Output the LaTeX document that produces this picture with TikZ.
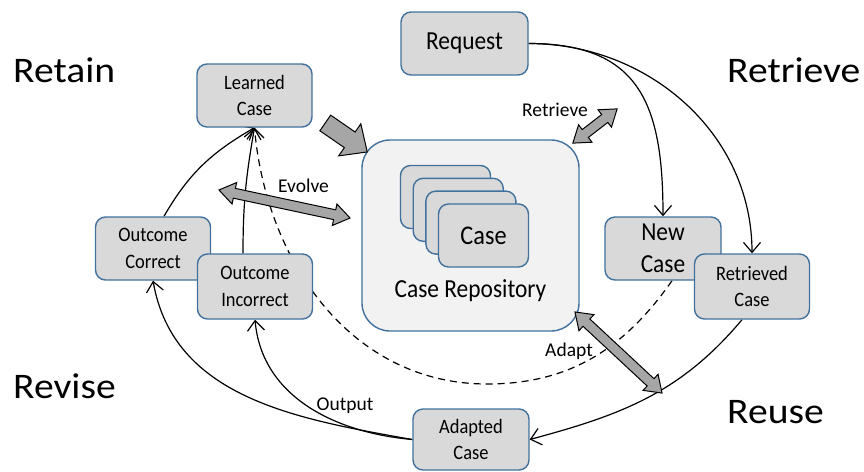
\documentclass[tikz,border=0pt]{standalone}
\usepackage{fontspec}
\setmainfont{Carlito}
\newfontfamily\boxfont[FakeStretch=0.9]{Carlito}
\newfontfamily\phasefont[FakeStretch=1.1]{Carlito}
\usetikzlibrary{arrows.meta,shapes.arrows,backgrounds}
\definecolor{boxgray}{HTML}{D9D9D9}
\definecolor{repogray}{HTML}{F2F2F2}
\definecolor{boxblue}{HTML}{41719C}
\definecolor{arrowgray}{HTML}{A6A6A6}

\begin{document}
\begin{tikzpicture}[x=1pt,y=1pt,
  casebox/.style={draw=boxblue, line width=1.4pt, fill=boxgray, rounded corners=10pt,
    minimum width=115pt, minimum height=63pt, inner sep=0pt, align=center,
    font=\boxfont\fontsize{20.5}{26.5}\selectfont},
  bigcase/.style={casebox, font=\boxfont\fontsize{26}{32}\selectfont},
  card/.style={casebox, minimum width=90pt, minimum height=63pt, font=\boxfont\fontsize{27}{30}\selectfont},
  repo/.style={draw=boxblue, line width=1.4pt, fill=repogray, rounded corners=28pt,
    minimum width=217pt, minimum height=191pt},
  phase/.style={inner sep=0pt, font=\phasefont\fontsize{36}{40}\selectfont},
  edgelabel/.style={inner sep=0pt, font=\fontsize{19.5}{22}\selectfont},
  flow/.style={line width=1.2pt, -{Straight Barb[length=10pt,width=17pt]}},
  dblarrow/.style={double arrow, draw, line width=1pt, fill=arrowgray, inner sep=0pt,
    inner ysep=4.5pt, double arrow head extend=6pt, double arrow tip angle=70},
  blockarrow/.style={single arrow, draw, line width=1pt, fill=arrowgray, inner sep=0pt,
    inner ysep=9pt, single arrow head extend=10pt, single arrow tip angle=85}]

\useasboundingbox (0,0) rectangle (864,-471);

% phase names
\node[phase, anchor=base west] (retain) at (13,-82) {Retain};
\node[phase, anchor=base west] (retrieve) at (727,-82) {Retrieve};
\node[phase, anchor=base west] (revise) at (13,-398) {Revise};
\node[phase, anchor=base west] (reuse) at (727,-423) {Reuse};

% repository with its stack of cases
\node[repo] (repo) at (470.5,-235.5) {};
\node[card] (card0) at (445.5,-197) {};
\node[card] (card1) at (458.2,-209.8) {};
\node[card] (card2) at (470.9,-222.6) {};
\node[card] (card3) at (483.5,-235.5) {Case};
\node[anchor=base, inner sep=0pt, font=\boxfont\fontsize{26}{30}\selectfont] (repotext) at (470.5,-297) {Case Repository};

% cases
\node[bigcase, minimum width=127pt] (req) at (464.5,-43.5) {Request};
\node[casebox] (lrn) at (254.5,-95.5) {Learned\\Case};
\node[casebox] (ok) at (153,-248.5) {Outcome\\Correct};
\node[casebox, minimum height=65pt] (bad) at (255,-286.5) {Outcome\\Incorrect};
\node[bigcase, minimum width=116pt] (new) at (663,-248.5) {New\\Case};
\node[casebox, minimum height=65pt] (ret) at (752,-286.5) {Retrieved\\Case};
\node[casebox, minimum width=116pt, minimum height=61pt] (adp) at (471,-439.5) {Adapted\\Case};

% block arrows to and from the repository
\coordinate (lrn1) at (321,-120);
\coordinate (lrn2) at (363,-149);
\coordinate (evo1) at (219,-190);
\coordinate (evo2) at (350,-218);
\coordinate (rtv1) at (573,-143);
\coordinate (rtv2) at (617,-109);
\coordinate (adt1) at (575,-312);
\coordinate (adt2) at (662,-393);
\path (lrn1) -- (lrn2) node[midway, sloped, blockarrow, minimum height=51pt] (store) {};
\path (evo1) -- (evo2) node[midway, sloped, dblarrow, minimum height=134pt] (evolve) {};
\path (rtv1) -- (rtv2) node[midway, sloped, dblarrow, minimum height=56pt] (lookup) {};
\path (adt1) -- (adt2) node[midway, sloped, dblarrow, minimum height=119pt] (adapt) {};

\node[edgelabel, anchor=base] (lblretrieve) at (555,-116) {Retrieve};
\node[edgelabel, anchor=base] (lblevolve) at (303.5,-192.5) {Evolve};
\node[edgelabel, anchor=base] (lbladapt) at (569,-356) {Adapt};
\node[edgelabel, anchor=base] (lbloutput) at (345,-410) {Output};

\begin{scope}[on background layer]
\draw[flow] (req.east) to[out=0, in=90, looseness=1.3] (new.north);
\draw[flow] (req.east) to[out=0, in=90] (ret.north);
\draw[flow] ([xshift=-10pt]ret.south) to[out=-130, in=15] (adp.east);
\draw[flow] (adp.west) to[out=170, in=-80] (ok.south);
\draw[flow] (adp.west) to[out=175, in=-85] (bad.south);
\draw[flow] ([xshift=11pt]ok.north) to[out=60, in=-150] (lrn.south);
\draw[flow] ([xshift=-12pt]bad.north) to[out=90, in=-100] (lrn.south);
\draw[flow, dash pattern=on 7pt off 5pt] ([xshift=9pt]new.south) to[out=-125, in=0] (487,-384)
  to[out=180, in=-85] (lrn.south);
\end{scope}

\end{tikzpicture}
\end{document}
